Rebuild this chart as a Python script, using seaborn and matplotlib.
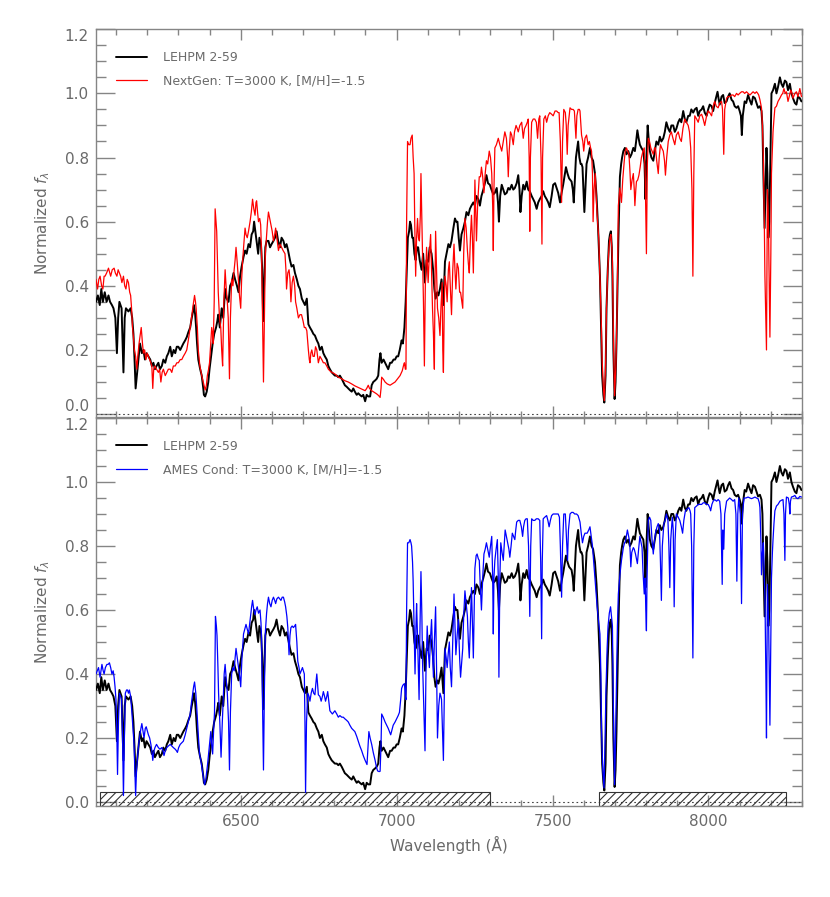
import numpy as np
import pandas as pd
import matplotlib
matplotlib.use('Agg')
import matplotlib.pyplot as plt
from matplotlib.ticker import MultipleLocator, FormatStrFormatter
import seaborn as sns

# observed spectrum, (wavelength [A], normalized flux)
lehpm = [
    (6036, .35), (6042, .37), (6048, .34), (6053, .39), (6058, .35), (6064, .38), (6070, .35), (6076, .37),
    (6081, .35), (6087, .34), (6092, .33), (6098, .30), (6103, .19), (6107, .30), (6111, .35), (6118, .33),
    (6124, .13), (6128, .30), (6132, .33), (6140, .32), (6147, .33), (6152, .30), (6156, .25), (6160, .16),
    (6163, .08), (6167, .12), (6172, .17), (6177, .22), (6183, .19), (6188, .20), (6193, .17), (6198, .19),
    (6204, .18), (6210, .17), (6215, .15), (6220, .16), (6225, .14), (6230, .15), (6236, .16), (6241, .14),
    (6247, .15), (6252, .17), (6258, .16), (6263, .18), (6268, .19), (6274, .21), (6279, .18), (6285, .20),
    (6290, .19), (6295, .21), (6300, .21), (6306, .20), (6311, .21), (6316, .22), (6322, .23), (6327, .24),
    (6332, .255), (6338, .27), (6343, .30), (6347, .32), (6350, .34), (6354, .31), (6357, .27), (6360, .22),
    (6364, .17), (6370, .14), (6375, .12), (6380, .08), (6382, .06), (6386, .055), (6391, .07), (6396, .10),
    (6400, .14), (6405, .18), (6410, .22), (6415, .25), (6421, .27), (6425, .29), (6428, .31), (6433, .27),
    (6439, .33), (6444, .30), (6450, .39), (6455, .36), (6461, .35), (6466, .40), (6471, .41), (6477, .44),
    (6482, .42), (6488, .40), (6493, .38), (6498, .43), (6503, .46), (6509, .49), (6514, .51), (6519, .50),
    (6525, .53), (6530, .52), (6535, .56), (6540, .57), (6543, .60), (6547, .57), (6551, .54), (6556, .50),
    (6560, .55), (6565, .53), (6569, .45), (6572, .29), (6575, .40), (6579, .52), (6583, .54), (6589, .54),
    (6594, .52), (6599, .53), (6605, .54), (6610, .55), (6615, .57), (6620, .54), (6626, .52), (6631, .55),
    (6637, .54), (6642, .52), (6647, .53), (6652, .51), (6658, .48), (6663, .46), (6669, .465), (6674, .44),
    (6680, .42), (6685, .40), (6690, .39), (6696, .36), (6701, .35), (6706, .34), (6712, .36), (6717, .28),
    (6722, .27), (6728, .26), (6733, .25), (6738, .245), (6744, .23), (6749, .22), (6754, .20), (6760, .21),
    (6765, .19), (6770, .18), (6776, .17), (6781, .15), (6786, .14), (6792, .13), (6797, .125), (6802, .12),
    (6808, .12), (6813, .115), (6818, .12), (6824, .11), (6829, .10), (6834, .09), (6840, .085), (6845, .08),
    (6850, .075), (6856, .07), (6861, .08), (6866, .07), (6872, .06), (6877, .065), (6882, .06), (6888, .055),
    (6893, .06), (6899, .04), (6904, .06), (6909, .055), (6915, .055), (6920, .09), (6925, .10), (6931, .105),
    (6936, .11), (6941, .12), (6945, .17), (6948, .19), (6952, .16), (6958, .17), (6963, .16), (6968, .15),
    (6973, .14), (6979, .16), (6984, .16), (6990, .17), (6995, .17), (7000, .18), (7005, .18), (7010, .20),
    (7016, .23), (7020, .22), (7025, .27), (7029, .35), (7032, .44), (7036, .55), (7040, .57), (7043, .60),
    (7046, .59), (7050, .55), (7053, .55), (7057, .50), (7061, .48), (7065, .52), (7069, .52), (7074, .48),
    (7080, .45), (7085, .50), (7091, .41), (7096, .48), (7101, .475), (7106, .52), (7112, .50), (7117, .45),
    (7121, .39), (7125, .36), (7130, .38), (7134, .37), (7139, .39), (7144, .42), (7150, .34), (7155, .475),
    (7160, .50), (7166, .53), (7171, .52), (7176, .54), (7182, .58), (7187, .61), (7191, .60), (7195, .60),
    (7199, .55), (7203, .51), (7208, .56), (7214, .58), (7219, .60), (7224, .63), (7230, .62), (7235, .64),
    (7240, .65), (7246, .66), (7251, .65), (7256, .68), (7262, .67), (7267, .65), (7272, .68), (7278, .70),
    (7283, .72), (7288, .745), (7293, .72), (7299, .715), (7304, .70), (7310, .685), (7315, .69), (7321, .705),
    (7325, .66), (7328, .60), (7332, .68), (7337, .715), (7342, .70), (7347, .685), (7353, .69), (7358, .705),
    (7363, .70), (7369, .715), (7374, .70), (7379, .705), (7385, .72), (7390, .745), (7394, .70), (7397, .63),
    (7401, .68), (7406, .715), (7411, .70), (7417, .725), (7422, .70), (7427, .695), (7433, .68), (7438, .67),
    (7443, .66), (7449, .64), (7454, .66), (7459, .67), (7465, .68), (7470, .695), (7475, .68), (7481, .67),
    (7486, .66), (7491, .645), (7497, .68), (7502, .715), (7508, .72), (7513, .705), (7518, .69), (7524, .66),
    (7529, .69), (7534, .715), (7538, .74), (7543, .77), (7548, .75), (7553, .735), (7557, .73), (7561, .725),
    (7565, .70), (7568, .66), (7572, .74), (7575, .80), (7579, .83), (7582, .85), (7586, .80), (7590, .78),
    (7593, .78), (7596, .77), (7599, .70), (7602, .63), (7606, .72), (7609, .78), (7614, .80), (7620, .83),
    (7625, .80), (7630, .79), (7636, .75), (7641, .68), (7646, .58), (7652, .43), (7656, .26), (7659, .12),
    (7663, .06), (7666, .036), (7670, .12), (7673, .33), (7677, .45), (7681, .54), (7684, .56), (7687, .57),
    (7690, .52), (7692, .43), (7695, .20), (7699, .047), (7702, .10), (7705, .22), (7708, .38), (7711, .54),
    (7716, .74), (7720, .78), (7723, .80), (7727, .82), (7732, .83), (7737, .81), (7743, .82), (7748, .80),
    (7753, .81), (7759, .83), (7764, .82), (7768, .85), (7772, .885), (7776, .86), (7780, .84), (7785, .83),
    (7791, .82), (7795, .78), (7798, .67), (7801, .80), (7805, .90), (7808, .86), (7812, .82), (7817, .80),
    (7823, .79), (7828, .82), (7833, .85), (7839, .84), (7844, .865), (7849, .85), (7855, .86), (7860, .88),
    (7865, .91), (7871, .89), (7876, .88), (7881, .90), (7887, .90), (7892, .88), (7897, .89), (7903, .91),
    (7908, .92), (7913, .91), (7919, .945), (7924, .92), (7929, .91), (7935, .93), (7940, .93), (7945, .95),
    (7951, .94), (7956, .95), (7962, .955), (7967, .93), (7972, .945), (7978, .95), (7983, .96), (7988, .94),
    (7994, .93), (7999, .95), (8004, .965), (8010, .96), (8015, .945), (8020, .97), (8025, .99), (8029, 1.005),
    (8033, .98), (8036, .965), (8042, .99), (8047, .995), (8052, .97), (8058, .975), (8063, .99), (8068, 1.00),
    (8074, .98), (8079, .975), (8084, .96), (8090, .955), (8095, .96), (8100, .945), (8104, .93), (8107, .87),
    (8110, .93), (8116, .975), (8121, .97), (8127, .995), (8132, .98), (8138, .965), (8143, .99), (8149, .985),
    (8154, .97), (8159, .955), (8165, .96), (8170, .945), (8173, .90), (8176, .75), (8180, .58), (8183, .70),
    (8186, .83), (8189, .75), (8192, .55), (8195, .60), (8198, .76), (8202, 1.00), (8207, 1.01), (8213, 1.03),
    (8218, 1.00), (8223, 1.02), (8229, 1.05), (8234, 1.03), (8239, 1.02), (8245, 1.04), (8250, 1.035), (8255, 1.01),
    (8261, 1.03), (8266, 1.00), (8271, .985), (8277, .97), (8282, .965), (8287, .99), (8293, .985), (8298, .975),
]

# NextGen model
nextgen = [
    (6036, .42), (6041, .39), (6045, .42), (6049, .43), (6054, .40), (6058, .39), (6062, .43), (6065, .43),
    (6070, .44), (6076, .455), (6080, .44), (6083, .43), (6088, .45), (6094, .455), (6098, .44), (6103, .43),
    (6107, .45), (6111, .44), (6115, .43), (6119, .41), (6124, .43), (6128, .40), (6132, .39), (6136, .42),
    (6140, .41), (6144, .38), (6147, .37), (6150, .33), (6153, .27), (6156, .24), (6159, .20), (6163, .18),
    (6167, .14), (6170, .18), (6174, .22), (6178, .25), (6181, .27), (6185, .22), (6188, .19), (6192, .20),
    (6196, .17), (6200, .19), (6204, .18), (6208, .17), (6212, .16), (6215, .15), (6218, .08), (6221, .14),
    (6225, .15), (6230, .14), (6236, .13), (6240, .14), (6244, .10), (6248, .13), (6252, .14), (6258, .12),
    (6263, .13), (6268, .14), (6274, .14), (6279, .13), (6284, .15), (6290, .15), (6295, .16), (6300, .16),
    (6306, .17), (6311, .17), (6316, .18), (6322, .19), (6327, .20), (6332, .23), (6338, .27), (6342, .30),
    (6346, .33), (6349, .35), (6352, .37), (6355, .35), (6357, .33), (6361, .27), (6364, .20), (6369, .15),
    (6375, .12), (6380, .10), (6386, .075), (6390, .09), (6393, .12), (6397, .14), (6400, .16), (6404, .22),
    (6407, .27), (6410, .25), (6412, .22), (6415, .35), (6418, .64), (6421, .60), (6423, .57), (6426, .46),
    (6428, .38), (6432, .30), (6436, .27), (6439, .20), (6442, .15), (6446, .35), (6450, .45), (6453, .40),
    (6457, .35), (6460, .30), (6464, .11), (6467, .30), (6471, .42), (6475, .40), (6479, .45), (6482, .48),
    (6485, .52), (6489, .47), (6493, .41), (6496, .37), (6500, .33), (6503, .42), (6506, .475), (6510, .53),
    (6514, .58), (6517, .56), (6521, .55), (6525, .57), (6530, .60), (6534, .63), (6538, .67), (6542, .64),
    (6546, .62), (6549, .66), (6551, .665), (6554, .63), (6557, .60), (6561, .61), (6564, .59), (6567, .50),
    (6570, .30), (6573, .10), (6576, .30), (6579, .50), (6583, .56), (6586, .60), (6589, .63), (6593, .61),
    (6597, .59), (6601, .57), (6605, .54), (6609, .56), (6612, .58), (6616, .55), (6621, .51), (6626, .53),
    (6631, .52), (6636, .51), (6642, .50), (6645, .45), (6647, .39), (6651, .44), (6655, .45), (6658, .42),
    (6661, .35), (6665, .41), (6669, .43), (6673, .40), (6676, .35), (6680, .33), (6685, .30), (6690, .31),
    (6695, .31), (6700, .29), (6704, .27), (6708, .27), (6712, .26), (6717, .20), (6720, .17), (6722, .16),
    (6725, .19), (6728, .20), (6732, .18), (6736, .18), (6740, .21), (6744, .20), (6749, .16), (6754, .18),
    (6760, .17), (6765, .16), (6770, .16), (6776, .15), (6781, .14), (6786, .135), (6792, .13), (6797, .128),
    (6802, .125), (6808, .12), (6813, .115), (6824, .11), (6834, .104), (6845, .10), (6856, .094), (6866, .088),
    (6877, .083), (6888, .078), (6899, .073), (6904, .08), (6909, .09), (6913, .08), (6920, .073), (6928, .068),
    (6936, .063), (6942, .058), (6947, .052), (6950, .08), (6952, .115), (6958, .108), (6963, .10), (6970, .094),
    (6979, .09), (6987, .095), (6995, .10), (7003, .11), (7011, .12), (7018, .135), (7023, .155), (7025, .16),
    (7028, .14), (7030, .14), (7032, .60), (7035, .85), (7039, .84), (7043, .84), (7046, .86), (7050, .87),
    (7053, .80), (7056, .75), (7058, .60), (7061, .43), (7064, .55), (7067, .61), (7070, .55), (7073, .54),
    (7076, .62), (7078, .75), (7081, .60), (7083, .49), (7086, .35), (7089, .15), (7092, .40), (7096, .52),
    (7099, .46), (7101, .41), (7105, .50), (7109, .56), (7112, .45), (7115, .33), (7118, .25), (7121, .14),
    (7123, .40), (7125, .57), (7128, .45), (7131, .33), (7135, .30), (7139, .245), (7142, .33), (7146, .41),
    (7148, .20), (7150, .13), (7153, .35), (7155, .43), (7159, .40), (7162, .35), (7166, .45), (7169, .475),
    (7172, .40), (7176, .31), (7180, .45), (7184, .53), (7187, .45), (7190, .39), (7194, .47), (7198, .455),
    (7202, .38), (7205, .38), (7209, .35), (7212, .33), (7215, .50), (7219, .61), (7223, .58), (7227, .51),
    (7230, .47), (7233, .44), (7237, .56), (7240, .62), (7243, .55), (7246, .44), (7249, .60), (7251, .73),
    (7254, .62), (7256, .54), (7260, .66), (7265, .74), (7269, .74), (7272, .77), (7276, .74), (7280, .69),
    (7284, .75), (7288, .79), (7292, .78), (7297, .82), (7301, .80), (7305, .75), (7308, .65), (7310, .51),
    (7312, .70), (7315, .83), (7320, .84), (7326, .86), (7331, .84), (7337, .82), (7342, .85), (7347, .88),
    (7352, .86), (7356, .80), (7358, .74), (7361, .82), (7365, .88), (7369, .87), (7374, .84), (7378, .88),
    (7383, .90), (7387, .89), (7390, .88), (7395, .90), (7401, .91), (7404, .88), (7406, .86), (7410, .89),
    (7415, .90), (7419, .91), (7422, .92), (7425, .80), (7427, .57), (7429, .80), (7433, .91), (7438, .92),
    (7443, .92), (7448, .91), (7452, .86), (7456, .92), (7459, .93), (7463, .80), (7466, .53), (7468, .80),
    (7472, .92), (7477, .93), (7481, .91), (7486, .93), (7491, .94), (7497, .935), (7502, .93), (7508, .945),
    (7513, .945), (7518, .94), (7521, .94), (7525, .85), (7529, .66), (7532, .85), (7536, .95), (7541, .94),
    (7544, .90), (7547, .81), (7550, .90), (7556, .955), (7561, .95), (7566, .95), (7570, .945), (7575, .86),
    (7578, .93), (7582, .95), (7586, .95), (7588, .945), (7591, .90), (7593, .87), (7597, .85), (7600, .82),
    (7604, .86), (7609, .87), (7614, .84), (7618, .85), (7622, .83), (7625, .82), (7628, .75), (7630, .60),
    (7633, .70), (7637, .75), (7640, .68), (7643, .62), (7648, .55), (7652, .43), (7656, .30), (7659, .17),
    (7663, .08), (7666, .042), (7670, .15), (7673, .33), (7677, .45), (7681, .52), (7684, .55), (7687, .56),
    (7690, .52), (7692, .475), (7695, .25), (7699, .057), (7703, .15), (7707, .33), (7711, .65), (7716, .705),
    (7721, .66), (7725, .73), (7730, .79), (7733, .82), (7737, .83), (7741, .82), (7745, .81), (7748, .76),
    (7751, .70), (7755, .73), (7759, .75), (7762, .70), (7764, .65), (7767, .70), (7769, .725), (7773, .73),
    (7777, .745), (7781, .77), (7785, .80), (7790, .82), (7794, .83), (7797, .75), (7801, .50), (7804, .78),
    (7807, .86), (7811, .85), (7815, .83), (7819, .82), (7823, .81), (7827, .83), (7830, .83), (7834, .79),
    (7839, .75), (7842, .80), (7846, .84), (7850, .83), (7855, .82), (7859, .79), (7862, .745), (7866, .80),
    (7871, .85), (7876, .87), (7881, .88), (7886, .86), (7892, .84), (7897, .87), (7903, .88), (7908, .86),
    (7913, .85), (7918, .89), (7924, .92), (7929, .91), (7935, .90), (7939, .88), (7943, .83), (7947, .70),
    (7950, .43), (7953, .75), (7956, .93), (7962, .92), (7967, .91), (7972, .93), (7978, .935), (7983, .92),
    (7988, .90), (7994, .93), (7999, .945), (8004, .94), (8010, .93), (8015, .96), (8020, .975), (8025, .96),
    (8031, .955), (8036, .97), (8042, .975), (8045, .95), (8049, .81), (8052, .95), (8058, .985), (8063, .99),
    (8068, .99), (8074, .995), (8079, .995), (8084, .99), (8090, 1.00), (8095, .995), (8100, 1.00), (8106, 1.005),
    (8111, 1.005), (8116, 1.00), (8122, 1.005), (8127, 1.00), (8133, .995), (8138, 1.00), (8143, 1.005), (8149, 1.00),
    (8154, 1.005), (8158, 1.00), (8161, .995), (8165, .98), (8170, .955), (8173, .90), (8176, .80), (8179, .60),
    (8181, .43), (8184, .30), (8186, .20), (8189, .70), (8191, .65), (8193, .54), (8195, .40), (8197, .24),
    (8200, .50), (8202, .75), (8205, .83), (8207, .88), (8210, .92), (8213, .955), (8218, .96), (8223, .975),
    (8229, .985), (8234, .995), (8238, 1.00), (8242, 1.015), (8246, 1.00), (8250, 1.005), (8255, .975), (8259, .99),
    (8264, 1.01), (8268, 1.00), (8271, .985), (8277, 1.00), (8282, 1.005), (8287, .99), (8293, 1.015), (8298, .99),
]

# AMES Cond model
ames = [
    (6036, .40), (6040, .41), (6044, .42), (6049, .39), (6052, .41), (6055, .43), (6059, .41), (6062, .40),
    (6066, .42), (6071, .43), (6075, .43), (6079, .435), (6083, .42), (6087, .40), (6091, .41), (6094, .39),
    (6097, .36), (6100, .32), (6103, .20), (6105, .086), (6108, .25), (6111, .34), (6115, .33), (6118, .32),
    (6121, .20), (6124, .02), (6127, .20), (6130, .34), (6134, .35), (6137, .35), (6140, .34), (6143, .35),
    (6147, .33), (6151, .28), (6155, .22), (6158, .18), (6161, .08), (6163, .02), (6166, .10), (6170, .15),
    (6174, .19), (6177, .21), (6180, .23), (6183, .245), (6187, .22), (6190, .20), (6194, .23), (6197, .235),
    (6201, .22), (6204, .21), (6208, .20), (6212, .18), (6215, .16), (6218, .13), (6222, .16), (6225, .17),
    (6230, .18), (6236, .17), (6241, .165), (6247, .17), (6251, .16), (6254, .145), (6258, .16), (6263, .17),
    (6268, .175), (6274, .18), (6279, .175), (6284, .17), (6290, .165), (6294, .16), (6297, .155), (6301, .17),
    (6306, .18), (6311, .185), (6316, .19), (6322, .21), (6327, .23), (6332, .25), (6338, .275), (6342, .31),
    (6346, .34), (6349, .36), (6352, .375), (6356, .34), (6359, .295), (6364, .21), (6368, .15), (6372, .13),
    (6376, .105), (6380, .08), (6384, .054), (6388, .07), (6391, .095), (6394, .12), (6397, .15), (6401, .19),
    (6404, .22), (6407, .18), (6410, .15), (6413, .22), (6416, .28), (6419, .58), (6422, .55), (6424, .52),
    (6427, .42), (6429, .34), (6433, .25), (6437, .14), (6441, .25), (6444, .32), (6447, .40), (6450, .43),
    (6454, .38), (6457, .34), (6461, .25), (6464, .10), (6467, .28), (6471, .40), (6475, .42), (6479, .41),
    (6482, .45), (6485, .48), (6489, .45), (6493, .42), (6497, .39), (6500, .36), (6504, .45), (6509, .525),
    (6513, .54), (6517, .555), (6521, .54), (6525, .525), (6528, .55), (6532, .585), (6535, .61), (6538, .63),
    (6542, .60), (6546, .585), (6549, .60), (6553, .61), (6557, .59), (6562, .60), (6565, .56), (6567, .51),
    (6570, .30), (6573, .10), (6576, .35), (6579, .53), (6583, .59), (6586, .62), (6589, .64), (6593, .62),
    (6597, .61), (6601, .63), (6605, .64), (6609, .63), (6612, .62), (6616, .635), (6621, .64), (6625, .635),
    (6629, .63), (6633, .64), (6637, .64), (6641, .625), (6644, .61), (6648, .58), (6651, .545), (6655, .46),
    (6658, .52), (6661, .545), (6665, .55), (6669, .545), (6673, .55), (6676, .555), (6680, .50), (6683, .44),
    (6687, .42), (6690, .40), (6694, .41), (6698, .42), (6701, .41), (6704, .40), (6706, .25), (6708, .03),
    (6711, .25), (6715, .34), (6719, .33), (6722, .315), (6726, .34), (6730, .355), (6734, .34), (6738, .335),
    (6741, .37), (6744, .40), (6747, .36), (6749, .335), (6754, .33), (6758, .315), (6762, .33), (6765, .345),
    (6769, .33), (6772, .315), (6776, .33), (6779, .345), (6783, .31), (6786, .285), (6790, .28), (6794, .275),
    (6798, .28), (6802, .285), (6808, .275), (6813, .265), (6818, .27), (6824, .265), (6829, .265), (6834, .26),
    (6840, .255), (6845, .25), (6850, .24), (6856, .23), (6861, .225), (6866, .22), (6872, .205), (6877, .19),
    (6882, .175), (6888, .16), (6893, .145), (6899, .13), (6905, .117), (6908, .17), (6911, .22), (6915, .20),
    (6920, .18), (6925, .155), (6931, .13), (6935, .11), (6939, .097), (6944, .095), (6947, .096), (6950, .18),
    (6952, .275), (6957, .265), (6963, .25), (6968, .24), (6973, .23), (6977, .22), (6981, .21), (6985, .225),
    (6989, .24), (6995, .25), (7000, .26), (7005, .27), (7009, .28), (7013, .32), (7016, .355), (7020, .365),
    (7025, .37), (7028, .33), (7030, .32), (7032, .60), (7035, .81), (7039, .81), (7043, .82), (7046, .81),
    (7048, .80), (7051, .75), (7053, .69), (7056, .55), (7059, .40), (7062, .55), (7064, .62), (7068, .48),
    (7072, .32), (7075, .55), (7078, .72), (7081, .58), (7083, .44), (7087, .30), (7091, .16), (7094, .40),
    (7098, .55), (7101, .48), (7105, .42), (7108, .50), (7112, .57), (7115, .48), (7118, .39), (7121, .50),
    (7125, .61), (7128, .42), (7131, .20), (7135, .30), (7139, .34), (7142, .33), (7144, .32), (7147, .22),
    (7150, .13), (7153, .35), (7155, .48), (7159, .45), (7162, .42), (7166, .47), (7169, .50), (7172, .42),
    (7176, .36), (7180, .50), (7184, .65), (7187, .55), (7190, .46), (7194, .52), (7198, .57), (7202, .45),
    (7205, .39), (7209, .44), (7212, .48), (7215, .58), (7219, .66), (7223, .62), (7227, .58), (7230, .50),
    (7233, .45), (7237, .58), (7240, .67), (7243, .56), (7246, .45), (7249, .62), (7251, .73), (7255, .77),
    (7258, .775), (7262, .76), (7265, .755), (7268, .68), (7272, .60), (7276, .70), (7280, .775), (7284, .79),
    (7288, .81), (7292, .79), (7297, .765), (7301, .80), (7305, .83), (7308, .70), (7310, .525), (7312, .70),
    (7315, .755), (7319, .79), (7323, .82), (7326, .70), (7328, .39), (7331, .70), (7334, .81), (7338, .78),
    (7342, .755), (7345, .80), (7348, .85), (7352, .83), (7356, .81), (7360, .79), (7363, .765), (7367, .80),
    (7371, .84), (7375, .83), (7379, .82), (7382, .85), (7385, .875), (7390, .88), (7395, .88), (7400, .86),
    (7404, .83), (7407, .86), (7411, .88), (7415, .885), (7419, .885), (7423, .80), (7427, .58), (7430, .80),
    (7433, .885), (7438, .88), (7443, .88), (7448, .885), (7454, .885), (7459, .88), (7462, .75), (7465, .51),
    (7467, .75), (7470, .885), (7475, .89), (7481, .895), (7485, .88), (7489, .86), (7493, .88), (7497, .895),
    (7502, .90), (7508, .90), (7513, .90), (7518, .90), (7522, .89), (7525, .80), (7529, .64), (7532, .80),
    (7536, .90), (7541, .90), (7545, .82), (7548, .755), (7551, .85), (7556, .90), (7561, .905), (7566, .905),
    (7571, .90), (7577, .90), (7582, .895), (7585, .885), (7588, .875), (7592, .84), (7596, .81), (7600, .83),
    (7604, .84), (7608, .84), (7611, .84), (7616, .85), (7620, .86), (7624, .83), (7628, .80), (7632, .75),
    (7636, .70), (7640, .65), (7643, .61), (7648, .56), (7652, .525), (7655, .40), (7657, .23), (7661, .10),
    (7665, .044), (7668, .18), (7671, .34), (7675, .48), (7678, .55), (7682, .59), (7686, .61), (7689, .58),
    (7692, .55), (7695, .30), (7699, .054), (7702, .20), (7705, .38), (7708, .55), (7711, .65), (7716, .71),
    (7721, .755), (7727, .795), (7731, .81), (7734, .815), (7740, .85), (7744, .83), (7747, .815), (7749, .78),
    (7751, .735), (7754, .78), (7759, .795), (7762, .79), (7766, .775), (7769, .76), (7772, .745), (7776, .79),
    (7780, .83), (7784, .81), (7787, .795), (7790, .72), (7794, .65), (7797, .70), (7799, .60), (7801, .535),
    (7803, .70), (7807, .88), (7811, .89), (7815, .88), (7819, .82), (7823, .775), (7826, .81), (7830, .84),
    (7835, .86), (7839, .87), (7843, .85), (7846, .75), (7849, .63), (7852, .80), (7857, .87), (7861, .88),
    (7865, .90), (7870, .88), (7873, .80), (7876, .67), (7879, .82), (7884, .89), (7887, .85), (7890, .61),
    (7893, .82), (7897, .90), (7903, .89), (7908, .88), (7913, .86), (7917, .84), (7921, .88), (7926, .91),
    (7931, .915), (7937, .92), (7941, .91), (7943, .90), (7946, .80), (7950, .45), (7953, .80), (7956, .92),
    (7962, .925), (7967, .93), (7972, .93), (7978, .93), (7983, .935), (7988, .935), (7994, .93), (7999, .93),
    (8004, .92), (8007, .91), (8011, .93), (8015, .94), (8020, .945), (8026, .94), (8031, .945), (8036, .94),
    (8040, .90), (8044, .68), (8046, .85), (8049, .79), (8052, .90), (8058, .94), (8063, .945), (8068, .95),
    (8074, .945), (8079, .94), (8084, .945), (8088, .90), (8091, .69), (8094, .90), (8097, .95), (8102, .90),
    (8106, .62), (8109, .90), (8114, .95), (8120, .95), (8127, .953), (8133, .95), (8138, .948), (8143, .95),
    (8149, .953), (8154, .95), (8159, .948), (8163, .935), (8165, .92), (8168, .82), (8170, .71), (8173, .78),
    (8176, .81), (8179, .70), (8181, .65), (8184, .40), (8186, .20), (8189, .68), (8191, .62), (8193, .55),
    (8195, .40), (8197, .24), (8200, .50), (8202, .70), (8205, .78), (8207, .82), (8210, .87), (8213, .91),
    (8218, .925), (8223, .93), (8229, .94), (8234, .943), (8239, .945), (8242, .90), (8245, .755), (8247, .90),
    (8250, .953), (8256, .95), (8259, .93), (8261, .90), (8263, .94), (8266, .953), (8272, .955), (8277, .958),
    (8282, .95), (8287, .948), (8293, .955), (8298, .953),
]

# hatched wavelength ranges in the lower panel
hatched_bands = [(6050, 7300), (7650, 8250)]

sns.set_style('ticks')
plt.rcParams['font.family'] = ['DejaVu Sans']
plt.rcParams['hatch.linewidth'] = 0.8

axis_gray = '#858585'
text_gray = '#6a6a6a'


def spectrum_df(points):
    return pd.DataFrame(points, columns=['wave', 'flux'])


fig = plt.figure(figsize=(8.3, 8.97), dpi=100)
ax_top = fig.add_axes([0.1153, 0.5355, 0.851, 0.4319])
ax_bot = fig.add_axes([0.1153, 0.1020, 0.851, 0.4320])

panels = [
    (ax_top, nextgen, 'NextGen: T=3000 K, [M/H]=-1.5', '#ff0000', -0.008),
    (ax_bot, ames, 'AMES Cond: T=3000 K, [M/H]=-1.5', '#0000ff', -0.011),
]

for ax, model, model_label, model_color, ybottom in panels:
    ax.axhline(0, ls=(0, (1.5, 2.5)), lw=0.8, color='#444444', zorder=1)
    sns.lineplot(data=spectrum_df(lehpm), x='wave', y='flux', ax=ax, color='black',
                 lw=1.4, label='LEHPM 2-59', estimator=None, sort=False, zorder=3)
    sns.lineplot(data=spectrum_df(model), x='wave', y='flux', ax=ax, color=model_color,
                 lw=0.9, label=model_label, estimator=None, sort=False, zorder=4)

    ax.set_xlim(6035, 8300)
    ax.set_ylim(ybottom, 1.2)
    ax.xaxis.set_major_locator(MultipleLocator(500))
    ax.xaxis.set_minor_locator(MultipleLocator(100))
    ax.yaxis.set_major_locator(MultipleLocator(0.2))
    ax.yaxis.set_minor_locator(MultipleLocator(0.05))
    ax.yaxis.set_major_formatter(FormatStrFormatter('%.1f'))

    ax.tick_params(which='both', direction='in', top=True, right=True, color=axis_gray,
                   labelcolor=text_gray, labelsize=11, width=1)
    ax.tick_params(axis='y', which='major', length=14, pad=5)
    ax.tick_params(axis='y', which='minor', length=7)
    ax.tick_params(axis='x', which='major', length=8, pad=6)
    ax.tick_params(axis='x', which='minor', length=4.5)
    for sp in ax.spines.values():
        sp.set_color(axis_gray)
        sp.set_linewidth(1)

    ax.set_ylabel(r'Normalized $f_\lambda$', fontsize=11, color=text_gray, labelpad=9)
    ax.set_xlabel('')

    ax.legend(loc='upper left', bbox_to_anchor=(0.029, 0.944), frameon=False, fontsize=9,
              handlelength=2.5, handletextpad=1.25, labelspacing=0.85, borderpad=0,
              borderaxespad=0, labelcolor=text_gray)

ax_top.tick_params(labelbottom=False)

# hatched boxes along the bottom of the lower panel
ybot = ax_bot.get_ylim()[0]
box_top = (0.03 - ybot) / (1.2 - ybot)
for lo, hi in hatched_bands:
    ax_bot.axvspan(lo, hi, ymin=0, ymax=box_top, facecolor='none', edgecolor='#333333',
                   hatch='////', lw=0.8, zorder=2)

ax_bot.set_xlabel('Wavelength (Å)', fontsize=11, color=text_gray, labelpad=5)

# edge labels sit inside the panel, as in the original
fig.canvas.draw()
for ax in (ax_top, ax_bot):
    for tick in ax.yaxis.get_major_ticks():
        loc = tick.get_loc()
        if abs(loc - 1.2) < 1e-6:
            tick.label1.set_verticalalignment('top')
        elif ax is ax_top and abs(loc) < 1e-6:
            tick.label1.set_verticalalignment('bottom')

fig.savefig('out.png', dpi=100)
